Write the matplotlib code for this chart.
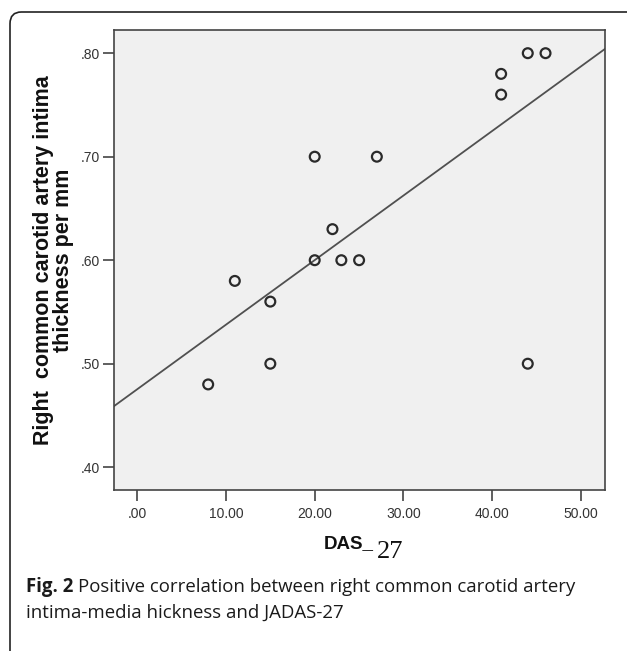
import numpy as np
import matplotlib
matplotlib.use("Agg")
import matplotlib.pyplot as plt
from matplotlib.patches import FancyBboxPatch

# --- données ---
das27 = [8, 11, 15, 15, 20, 20, 22, 23, 25, 27, 41, 41, 44, 46, 44]
cimt_right = [0.48, 0.58, 0.56, 0.50, 0.70, 0.60, 0.63, 0.60, 0.60, 0.70,
              0.78, 0.76, 0.80, 0.80, 0.50]
fit_intercept = 0.4753
fit_slope = 0.00624
xticks = [0, 10, 20, 30, 40, 50]
xtick_labels = [".00", "10.00", "20.00", "30.00", "40.00", "50.00"]
yticks = [0.40, 0.50, 0.60, 0.70, 0.80]
ytick_labels = [".40", ".50", ".60", ".70", ".80"]

W, H = 627, 651
fig = plt.figure(figsize=(W / 100, H / 100), dpi=100)
fig.patch.set_facecolor("white")

# cadre arrondi autour de la figure (coupé à droite et en bas)
top = 1 - 12 / H
frame = FancyBboxPatch((10 / W, -0.2), 1.2, top + 0.2,
                       boxstyle="round,pad=0,rounding_size=0.018",
                       transform=fig.transFigure, fill=False,
                       edgecolor="#222222", linewidth=1.2)
fig.patches.append(frame)

# --- axes ---
ax = fig.add_axes([114 / W, 1 - 490 / H, (605 - 114) / W, (490 - 30) / H])
ax.set_facecolor("#f0f0f0")
ax.set_xlim(-2.61, 52.7)
ax.set_ylim(0.378, 0.8224)

ax.scatter(das27, cimt_right, s=50, facecolors="none", edgecolors="#2a2a2a",
           linewidths=1.6, zorder=3)

xl = np.array(ax.get_xlim())
ax.plot(xl, fit_intercept + fit_slope * xl, color="#505050", lw=1.3, zorder=2)

tick_font = dict(family=["Liberation Sans Narrow", "Liberation Sans", "DejaVu Sans"],
                 size=10, color="#333333")
ax.set_xticks(xticks)
ax.set_xticklabels(xtick_labels, **tick_font)
ax.set_yticks(yticks)
ax.set_yticklabels(ytick_labels, **tick_font)
ax.tick_params(axis="x", direction="out", length=8, width=1.2, color="#444444", pad=4)
ax.tick_params(axis="y", direction="out", length=8, width=1.2, color="#444444", pad=2)
for s in ax.spines.values():
    s.set_color("#444444")
    s.set_linewidth(1.2)

# titre de l'axe y (deux lignes, gras)
ylab_font = ["Liberation Sans", "DejaVu Sans"]
fig.text(44 / W, 1 - 260 / H, "Right  common carotid artery intima",
         rotation=90, ha="center", va="center", fontsize=15.5, fontweight="bold",
         family=ylab_font, color="#111111")
fig.text(64 / W, 1 - 260 / H, "thickness per mm",
         rotation=90, ha="center", va="center", fontsize=15.5, fontweight="bold",
         family=ylab_font, color="#111111")

# titre de l'axe x : "DAS_" sans-serif gras + "27" serif
fig.text(374 / W, 1 - 548 / H, "DAS_", ha="right", va="baseline", fontsize=13.5,
         fontweight="bold", family=["Liberation Sans Narrow", "Liberation Sans"],
         color="#111111")
fig.text(377 / W, 1 - 558 / H, "27", ha="left", va="baseline", fontsize=19,
         family=["Liberation Serif", "DejaVu Serif"], color="#111111")

# légende de la figure
cap_font = ["Open Sans", "DejaVu Sans"]
t1 = fig.text(26 / W, 1 - 592 / H, "Fig. 2", ha="left", va="baseline",
              fontsize=13.4, fontweight="bold", family=cap_font, color="#1a1a1a")
fig.canvas.draw()
bb = t1.get_window_extent()
fig.text((bb.x1 + 5) / W, 1 - 592 / H,
         "Positive correlation between right common carotid artery",
         ha="left", va="baseline", fontsize=13.4, family=cap_font, color="#1a1a1a")
fig.text(26 / W, 1 - 618 / H, "intima-media hickness and JADAS-27",
         ha="left", va="baseline", fontsize=13.4, family=cap_font, color="#1a1a1a")

fig.savefig("out.png", dpi=100)
